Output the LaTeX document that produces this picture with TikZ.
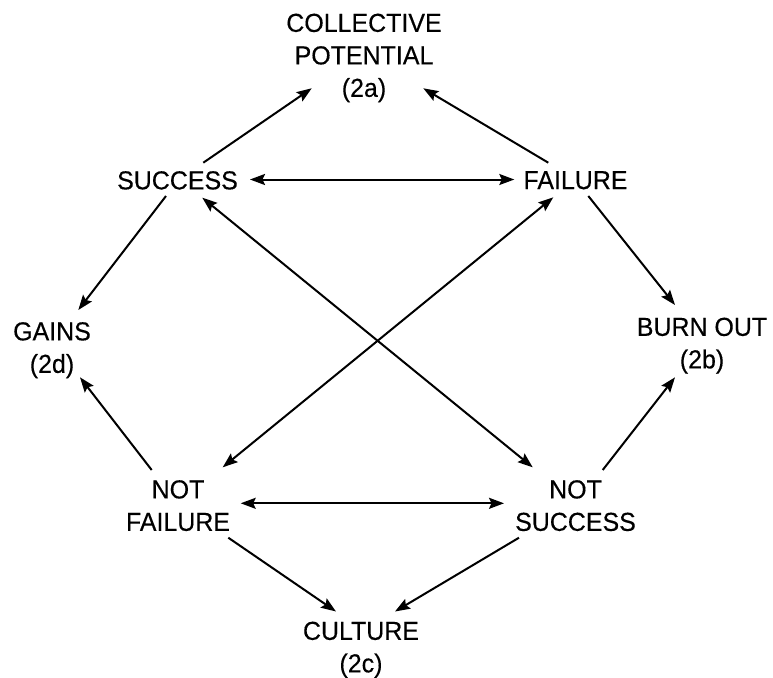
\documentclass[tikz,border=0pt]{standalone}
\usepackage{fontspec}
\setmainfont{Liberation Sans}[FakeStretch=0.96,FakeBold=0.35]
\usetikzlibrary{arrows.meta}
\tikzset{
  lbl/.style={inner sep=0pt, anchor=north, align=center, font=\fontsize{26}{32.5}\selectfont},
  arr/.style={-{Stealth[length=15pt,width=11pt,inset=2.5pt]}, line width=2pt},
  dbl/.style={{Stealth[length=15pt,width=11pt,inset=2.5pt]}-{Stealth[length=15pt,width=11pt,inset=2.5pt]}, line width=2pt}
}
\begin{document}
\begin{tikzpicture}[x=1pt,y=-1pt]
\useasboundingbox (0,0) rectangle (773,677);
\node[lbl] (cp) at (364,13.5) {COLLECTIVE\\POTENTIAL\\(2a)};
\node[lbl] (s) at (177.5,171) {SUCCESS};
\node[lbl] (f) at (575.5,171) {FAILURE};
\node[lbl] (g) at (52,322) {GAINS\\(2d)};
\node[lbl] (b) at (702,317.5) {BURN OUT\\(2b)};
\node[lbl] (nf) at (178,480) {NOT\\FAILURE};
\node[lbl] (ns) at (575.5,480) {NOT\\SUCCESS};
\node[lbl] (c) at (361,621.5) {CULTURE\\(2c)};

\draw[arr] ([xshift=25.8pt,yshift=8.3pt]s.north) -- ([xshift=-52.3pt,yshift=-74.8pt]cp.north);
\draw[arr] ([xshift=-27.2pt,yshift=8.3pt]f.north) -- ([xshift=59.3pt,yshift=-74.8pt]cp.north);
\draw[dbl] ([xshift=72.5pt,yshift=-8.5pt]s.north) -- ([xshift=-61.2pt,yshift=-8.5pt]f.north);
\draw[arr] ([xshift=-11.5pt,yshift=-25pt]s.north) -- ([xshift=26.3pt,yshift=12pt]g.north);
\draw[arr] ([xshift=12.8pt,yshift=-25pt]f.north) -- ([xshift=-27pt,yshift=12.5pt]b.north);
\draw[dbl] ([xshift=24.8pt,yshift=-26.7pt]s.north) -- ([xshift=-42.8pt,yshift=12.7pt]ns.north);
\draw[dbl] ([xshift=-22.2pt,yshift=-26.3pt]f.north) -- ([xshift=44.7pt,yshift=12.7pt]nf.north);
\draw[arr] ([xshift=-26.3pt,yshift=10pt]nf.north) -- ([xshift=28pt,yshift=-55.3pt]g.north);
\draw[arr] ([xshift=27.2pt,yshift=10pt]ns.north) -- ([xshift=-27pt,yshift=-59.8pt]b.north);
\draw[dbl] ([xshift=62.7pt,yshift=-23.3pt]nf.north) -- ([xshift=-71.5pt,yshift=-23.3pt]ns.north);
\draw[arr] ([xshift=50.3pt,yshift=-57.7pt]nf.north) -- ([xshift=-25pt,yshift=10pt]c.north);
\draw[arr] ([xshift=-56.5pt,yshift=-57.7pt]ns.north) -- ([xshift=34pt,yshift=10pt]c.north);
\end{tikzpicture}
\end{document}
